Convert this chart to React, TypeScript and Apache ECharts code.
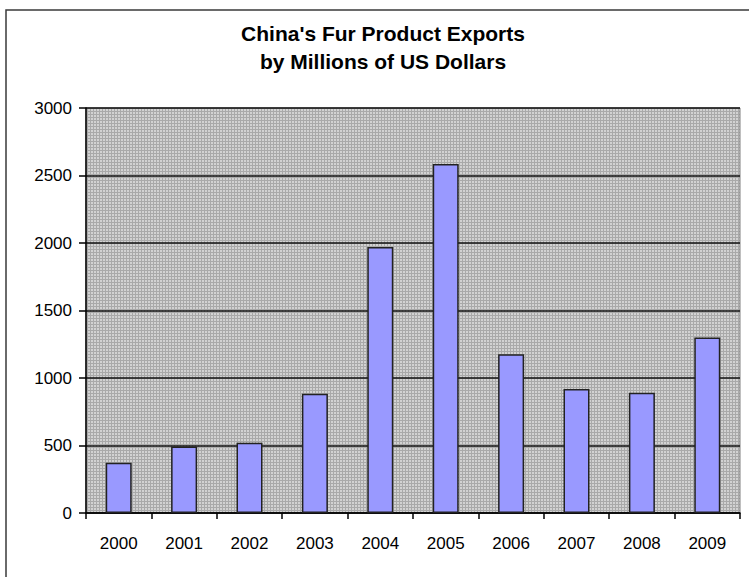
import React, { useEffect, useRef } from "react";
import * as echarts from "echarts";

const years = ["2000", "2001", "2002", "2003", "2004", "2005", "2006", "2007", "2008", "2009"];
const exports = [372, 493, 520, 883, 1970, 2586, 1176, 918, 891, 1300];
const titleLines = ["China's Fur Product Exports", "by Millions of US Dollars"];

function makePattern(): string {
  const c = document.createElement("canvas");
  c.width = 3;
  c.height = 3;
  const ctx = c.getContext("2d");
  if (!ctx) return "";
  ctx.fillStyle = "#d2d2d2";
  ctx.fillRect(0, 0, 3, 3);
  ctx.fillStyle = "#a9a9a9";
  ctx.fillRect(0, 0, 3, 1);
  ctx.fillRect(0, 0, 1, 3);
  return c.toDataURL("image/png");
}

export default function App() {
  const ref = useRef<HTMLDivElement>(null);
  useEffect(() => {
    if (!ref.current) return;
    const chart = echarts.init(ref.current, null, { renderer: "svg" });
    const pat = makePattern();
    chart.setOption({
      animation: false,
      backgroundColor: "#ffffff",
      textStyle: { fontFamily: "Liberation Sans, Arial, sans-serif" },
      title: {
        text: titleLines.join("\n"),
        left: 378,
        textAlign: "center",
        top: 14,
        textStyle: {
          fontSize: 21,
          fontWeight: "bold",
          color: "#000",
          lineHeight: 28,
          fontFamily: "Liberation Sans, Arial, sans-serif",
        },
      },
      graphic: [
        {
          type: "rect",
          shape: { x: 6, y: 10, width: 800, height: 800 },
          style: { fill: "none", stroke: "#3a3a3a", lineWidth: 1.5 },
          silent: true,
          z: 0,
        },
      ],
      grid: {
        left: 86,
        top: 108,
        right: 9,
        bottom: 64,
        show: true,
        backgroundColor: pat ? { image: pat, repeat: "repeat" } : "#c4c4c4",
        borderColor: "#808080",
        borderWidth: 1,
      },
      xAxis: {
        type: "category",
        data: years,
        axisLine: { show: true, lineStyle: { color: "#000", width: 1.5 } },
        axisTick: { show: true, alignWithLabel: false, length: 6, lineStyle: { color: "#000", width: 1.5 } },
        axisLabel: { color: "#000", fontSize: 17, margin: 22, interval: 0 },
        splitLine: { show: false },
      },
      yAxis: {
        type: "value",
        min: 0,
        max: 3000,
        interval: 500,
        axisLine: { show: true, lineStyle: { color: "#000", width: 1.5 } },
        axisTick: { show: true, length: 7, lineStyle: { color: "#000", width: 1.5 } },
        axisLabel: { color: "#000", fontSize: 17, margin: 14, formatter: (v: number) => String(v) },
        splitLine: { show: true, lineStyle: { color: "#111", width: 1.5 } },
      },
      series: [
        {
          type: "bar",
          data: exports,
          barWidth: 26,
          itemStyle: { color: "#9999ff", borderColor: "#222", borderWidth: 1.5 },
        },
      ],
    });
    return () => chart.dispose();
  }, []);
  return (
    <div
      ref={ref}
      style={{ position: "fixed", left: 0, top: 0, width: 749, height: 577 }}
    />
  );
}
